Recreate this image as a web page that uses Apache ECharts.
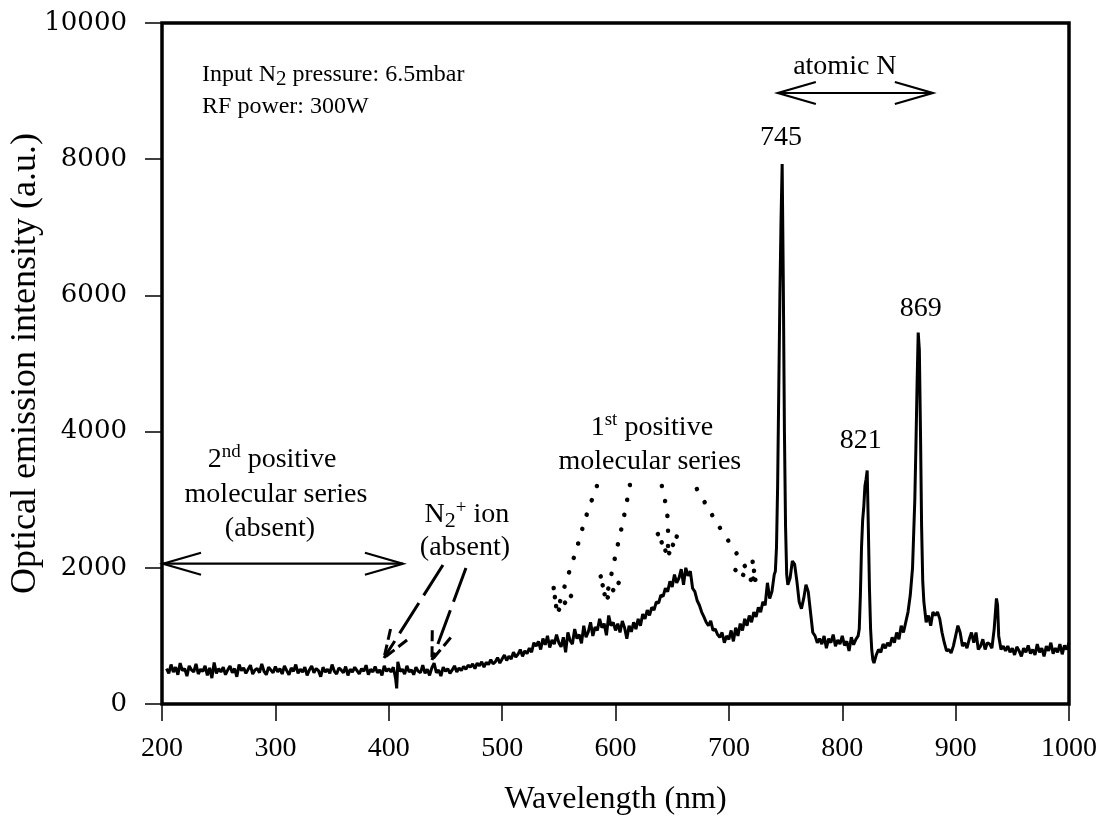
<!DOCTYPE html>
<html>
<head>
<meta charset="utf-8">
<script src="https://cdn.jsdelivr.net/npm/echarts@6/dist/echarts.min.js"></script>
<style>
html,body{margin:0;padding:0;background:#fff;}
#main{width:1108px;height:823px;}
</style>
</head>
<body>
<div id="main"></div>
<script>
// ---------- data: [wavelength (nm), intensity (a.u.)] ----------
const uvRegion = [
[204,520],[206,450],[208,580],[210,470],[212,540],[214,430],[216,600],[218,490],[220,520],[222,410],
[224,560],[226,500],[228,470],[230,590],[232,440],[234,510],[236,480],[238,560],[240,420],[242,530],
[244,380],[246,610],[248,450],[250,520],[252,470],[254,540],[256,430],[258,500],[260,560],[262,460],
[264,520],[266,400],[268,580],[270,490],[272,530],[274,450],[276,510],[278,570],[280,440],[282,500],
[284,520],[286,460],[288,590],[290,480],[292,430],[294,540],[296,500],[298,460],[300,550]
];
const nearUvRegion = [
[302,470],[304,520],[306,440],[308,560],[310,490],[312,430],[314,530],[316,480],[318,580],[320,450],
[322,510],[324,470],[326,540],[328,420],[330,500],[332,560],[334,460],[336,520],[338,490],[340,400],
[342,540],[344,470],[346,510],[348,450],[350,580],[352,480],[354,440],[356,530],[358,500],[360,460],
[362,550],[364,420],[366,510],[368,470],[370,540],[372,490],[374,440],[376,520],[378,480],[380,570],
[382,430],[384,510],[386,470],[388,550],[390,460],[392,500],[394,420],[396,560],[398,480],[400,520],
[402,470],[404,540],[406,380],[407,230],[408,620],[410,480]
];
const blueRegion = [
[412,510],[414,440],[416,560],[418,470],[420,500],[422,430],[424,540],[426,480],[428,460],[430,570],
[432,450],[434,510],[436,420],[438,530],[440,600],[442,460],[444,500],[446,410],[448,540],[450,480],
[452,520],[454,450],[456,500],[458,560],[460,470],[462,530],[464,490],[466,550],[468,510],[470,570],
[472,540],[474,590],[476,520],[478,600],[480,560],[482,620],[484,540],[486,610],[488,580],[490,650],
[492,590],[494,620],[496,680],[498,600],[500,660],[502,720],[504,640],[506,700],[508,660],[510,760],
[512,690],[514,730],[516,800],[518,700],[520,780],[522,740],[524,820],[526,760],[528,900],[530,850]
];
const band1Region = [
[532,920],[534,800],[536,960],[538,870],[540,1000],[542,830],[544,940],[546,880],[548,1020],[550,900],
[552,840],[554,980],[556,760],[558,1050],[560,930],[562,880],[564,1100],[566,960],[568,1020],[570,890],
[572,1150],[574,980],[576,1060],[578,1200],[580,1000],[582,1130],[584,1080],[586,1250],[588,1120],[590,1180],
[592,1010],[594,1300],[596,1150],[598,1200],[600,1080],[602,1180],[604,1050],[606,1220],[608,1120],[610,960],
[612,1150],[614,1060],[616,1200],[618,1100],[620,1250],[622,1150],[624,1320],[626,1250],[628,1380],[630,1300],
[632,1420],[634,1380],[636,1500],[638,1480],[640,1600]
];
const band2Region = [
[642,1580],[644,1700],[646,1650],[648,1800],[650,1720],[652,1900],[654,1780],[656,1850],[658,1980],[660,1750],
[662,2000],[664,1880],[666,1950],[668,1700],[670,1650],[672,1520],[674,1450],[676,1350],[678,1280],[680,1200],
[682,1150],[684,1220],[686,1080],[688,1100],[690,1020],[692,980],[694,1050],[696,900],[698,1000],[700,950],
[702,1080],[704,920],[706,1120],[708,1000],[710,1180],[712,1080],[714,1250],[716,1150],[718,1300],[720,1200],
[722,1350],[724,1280],[726,1420],[728,1350],[730,1500],[732,1450],[734,1780],[736,1550],[738,1650],[740,1900]
];
const peak745Region = [
[741,1950],[742,2300],[743,3200],[744,4600],[745,6000],[746,7100],[747,7930],[748,6200],[749,4000],[750,2600],
[751,1900],[752,1750],[754,1850],[756,2100],[758,2050],[760,1800],[762,1500],[764,1400],[766,1550],[768,1750],
[770,1650],[772,1350],[774,1050],[776,1000],[778,900],[780,960]
];
const midRegion = [
[782,880],[784,1000],[786,820],[788,960],[790,900],[792,1020],[794,850],[796,940],[798,880],[800,1000],
[802,860],[804,920],[806,780],[808,980],[810,870],[812,950],[814,1000]
];
const peak821Region = [
[815,1100],[816,1600],[817,2300],[818,2700],[819,2900],[820,3200],[821,3300],[822,3430],[823,2600],[824,1700],
[825,1100],[826,800],[827,650],[828,600],[830,720],[832,800],[834,760],[836,880],[838,820],[840,900],
[842,850],[844,980],[846,900],[848,1050],[850,950],[852,1150],[854,1050],[856,1200]
];
const peak869Region = [
[858,1350],[860,1600],[862,2000],[863,2500],[864,3000],[865,3800],[866,4700],[867,5455],[868,5200],[869,4000],
[870,2600],[871,1800],[872,1500],[874,1200],[876,1300],[878,1150],[880,1350],[882,1300],[884,1350],[886,1250],
[888,1050],[890,900],[892,780],[894,800],[896,750],[898,850],[900,1000],[902,1150],[904,1050],[906,850]
];
const irRegion = [
[908,900],[910,820],[912,950],[914,1050],[916,900],[918,1050],[920,800],[922,850],[924,950],[926,800],
[928,900],[930,880],[932,820],[934,1100],[936,1550],[937,1450],[938,1000],[940,800],[942,850],[944,780],
[946,850],[948,760],[950,820],[952,720],[954,840],[956,780],[958,700],[960,820],[962,760],[964,860],
[966,740],[968,800],[970,720],[972,880],[974,760],[976,820],[978,700],[980,850],[982,780],[984,900],
[986,740],[988,820],[990,760],[992,880],[994,730],[996,860],[998,800],[1000,900]
];
const xTicks = [200,300,400,500,600,700,800,900,1000];
const yTicks = [0,2000,4000,6000,8000,10000];

const spectrum = [].concat(uvRegion, nearUvRegion, blueRegion, band1Region, band2Region,
  peak745Region, midRegion, peak821Region, peak869Region, irRegion);

const F = '"Liberation Serif", "Times New Roman", serif';
const FW = '"DejaVu Serif", "Liberation Serif", serif';

const chart = echarts.init(document.getElementById('main'), null, {renderer: 'canvas'});
const option = {
  backgroundColor: '#fff',
  animation: false,
  grid: {left: 162, top: 23, width: 907, height: 681, containLabel: false, outerBoundsMode: 'none',
    show: true, borderColor: '#000', borderWidth: 3.5, backgroundColor: 'transparent'},
  xAxis: {
    type: 'value', min: xTicks[0], max: xTicks[xTicks.length - 1], interval: 100,
    name: 'Wavelength (nm)', nameLocation: 'middle', nameGap: 80, nameMoveOverlap: false,
    nameTextStyle: {fontFamily: F, fontSize: 32, color: '#000'},
    axisLine: {show: false},
    axisTick: {show: true, inside: false, length: 17, lineStyle: {color: '#000', width: 1.5}},
    axisLabel: {fontFamily: F, fontSize: 28, color: '#000', margin: 31, formatter: v => String(v)},
    splitLine: {show: false}
  },
  yAxis: {
    type: 'value', min: yTicks[0], max: yTicks[yTicks.length - 1], interval: 2000,
    name: 'Optical emission intensity (a.u.)', nameLocation: 'middle', nameGap: 118, nameMoveOverlap: false,
    nameTextStyle: {fontFamily: F, fontSize: 36, color: '#000'},
    axisLine: {show: false},
    axisTick: {show: true, inside: false, length: 17, lineStyle: {color: '#000', width: 1.5}},
    axisLabel: {fontFamily: FW, fontSize: 26, color: '#000', margin: 35, formatter: v => String(v)},
    splitLine: {show: false}
  },
  series: [{
    type: 'line', data: spectrum, showSymbol: false, symbol: 'none',
    lineStyle: {color: '#000', width: 3}, z: 3
  }]
};
chart.setOption(option);

// ---------- annotations (anchored in data coordinates) ----------
const P = p => chart.convertToPixel({gridIndex: 0}, p);
const RICH = {
  sub: {fontFamily: F, fontSize: 22, fill: '#000', lineHeight: 20, verticalAlign: 'bottom'},
  sup: {fontFamily: F, fontSize: 19, fill: '#000', lineHeight: 18, verticalAlign: 'top'},
  subS: {fontFamily: F, fontSize: 21, fill: '#000', lineHeight: 19, verticalAlign: 'bottom'}
};
function txt(pos, text, align, size) {
  const [x, y] = P(pos);
  return {type: 'text', x: x, y: y, silent: true, z: 10,
    style: {text: text, fill: '#000', fontFamily: F, fontSize: size || 28, lineHeight: size ? size + 6 : 34,
      align: align || 'center', textAlign: align || 'center',
      verticalAlign: 'middle', textVerticalAlign: 'middle', rich: RICH}};
}
function head(tip, from, L, W) {
  const dx = tip[0] - from[0], dy = tip[1] - from[1];
  const len = Math.hypot(dx, dy), ux = dx / len, uy = dy / len;
  const bx = tip[0] - ux * L, by = tip[1] - uy * L;
  return [[bx - uy * W, by + ux * W], tip, [bx + uy * W, by - ux * W]];
}
function poly(points, style, smooth) {
  return {type: 'polyline', silent: true, z: 10, shape: {points: points, smooth: smooth || 0},
    style: Object.assign({stroke: '#000', fill: null, lineWidth: 2}, style)};
}
function doubleArrow(a, b) {
  const A = P(a), B = P(b);
  return [poly([A, B], {lineWidth: 2.2}), poly(head(A, B, 38, 11), {lineWidth: 2.2}), poly(head(B, A, 38, 11), {lineWidth: 2.2})];
}
function dashedArrow(from, tip) {
  const A = P(from), B = P(tip);
  const st = {lineWidth: 3, lineDash: [36, 9]};
  return [poly([A, B], st), poly(head(B, A, 28, 10), {lineWidth: 3, lineDash: [11, 5]})];
}
function dottedArrow(path, tip) {
  const pts = path.map(P), T = P(tip);
  const st = {lineWidth: 4.5, lineCap: 'round', lineDash: [0.1, 15]};
  const prev = pts[pts.length - 1];
  return [poly(pts.concat([T]), st, 0.3), poly(head(T, prev, 22, 10), {lineWidth: 4.5, lineCap: 'round', lineDash: [0.1, 9]})];
}

const g = [];
g.push(txt([235.3, 9236], 'Input N{subS|2} pressure: 6.5mbar', 'left', 24));
g.push(txt([235.3, 8767], 'RF power: 300W', 'left', 24));
g.push(txt([802.3, 9354], 'atomic N'));
g.push(...doubleArrow([743.2, 8972], [879.9, 8972]));
g.push(txt([745.9, 8311], '745'));
g.push(txt([869.3, 5800], '869'));
g.push(txt([816.4, 3862], '821'));
g.push(txt([632.1, 4053], '1{sup|st} positive'));
g.push(txt([630.3, 3554], 'molecular series'));
g.push(txt([297.0, 3583], '2{sup|nd} positive'));
g.push(txt([300.5, 3069], 'molecular series'));
g.push(txt([295.2, 2570], '(absent)'));
g.push(...doubleArrow([200.9, 2060], [412.5, 2060]));
g.push(txt([469.0, 2775], 'N{sub|2}{sup|+} ion'));
g.push(txt([467.2, 2291], '(absent)'));
g.push(...dashedArrow([447.8, 2041], [395.8, 675]));
g.push(...dashedArrow([468.1, 1997], [438.1, 646]));
g.push(...dottedArrow([[583.6, 3201], [573.9, 2746], [565.1, 2247], [556.3, 1791]], [548.3, 1351]));
g.push(...dottedArrow([[612.7, 3216], [607.4, 2746], [601.2, 2276]], [591.5, 1527]));
g.push(...dottedArrow([[640.9, 3201], [644.4, 2922], [646.2, 2673]], [646.2, 2173]));
g.push(...dottedArrow([[671.8, 3157], [680.6, 2907], [689.4, 2658], [699.1, 2408]], [723.8, 1777]));

chart.setOption({graphic: {elements: g}});
</script>
</body>
</html>
